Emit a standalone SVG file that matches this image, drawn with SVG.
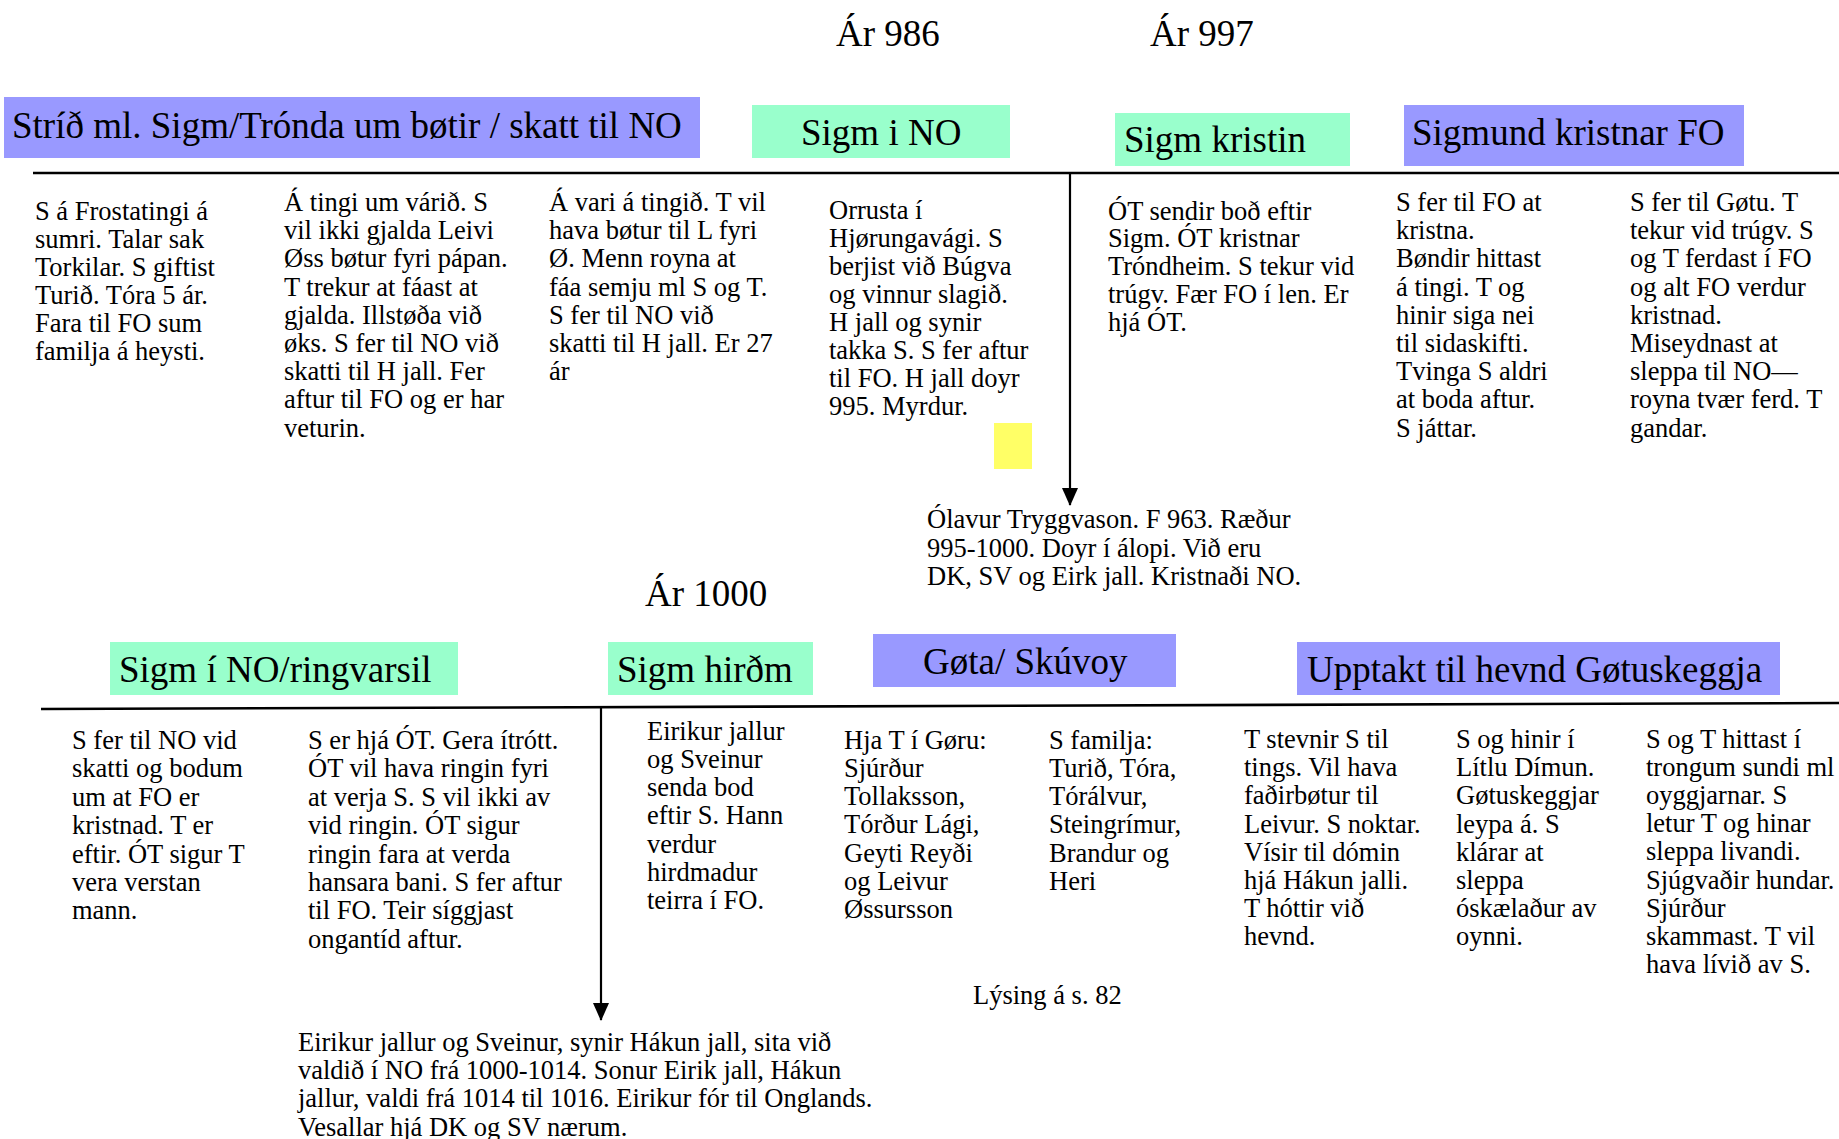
<svg xmlns="http://www.w3.org/2000/svg" width="1839" height="1139" viewBox="0 0 1839 1139">
<style>
text{font-family:"Liberation Serif","Times New Roman",serif;fill:#000}
.h{font-size:37px}
.b{font-size:26.5px}
.purple{fill:#9999FF}
.green{fill:#99FFCC}
.line{stroke:#000;stroke-width:2.6;fill:none}
.vline{stroke:#000;stroke-width:2.2;fill:none}
</style>
<defs>
<marker id="arrow" viewBox="0 0 18 16" refX="17" refY="8" markerWidth="18" markerHeight="16" markerUnits="userSpaceOnUse" orient="auto">
<path d="M0,0 L18,8 L0,16 Z" fill="#000"/>
</marker>
</defs>
<rect width="1839" height="1139" fill="#fff"/>

<g id="connectors">
<line class="line" x1="33" y1="173" x2="1839" y2="173"/>
<line class="line" x1="41" y1="709" x2="1839" y2="703"/>
<line class="vline" x1="1070" y1="173" x2="1070" y2="505" marker-end="url(#arrow)"/>
<line class="vline" x1="601" y1="708" x2="601" y2="1020" marker-end="url(#arrow)"/>
</g>

<g id="year-986"><text class="h" x="836" y="46">Ár 986</text></g>
<g id="year-997"><text class="h" x="1150" y="46">Ár 997</text></g>
<g id="year-1000"><text class="h" x="645" y="606">Ár 1000</text></g>

<g id="hdr-strid">
<rect class="purple" x="4" y="97" width="696" height="61"/>
<text class="h" x="12" y="138">Stríð ml. Sigm/Trónda um bøtir / skatt til NO</text>
</g>
<g id="hdr-sigm-no">
<rect class="green" x="752" y="105" width="258" height="53"/>
<text class="h" x="801" y="145">Sigm i NO</text>
</g>
<g id="hdr-sigm-kristin">
<rect class="green" x="1115" y="113" width="235" height="53"/>
<text class="h" x="1124" y="152">Sigm kristin</text>
</g>
<g id="hdr-sigmund-fo">
<rect class="purple" x="1404" y="105" width="340" height="61"/>
<text class="h" x="1412" y="145">Sigmund kristnar FO</text>
</g>

<g id="t1-col1">
<text class="b" x="35" y="219.5"><tspan x="35">S á Frostatingi á</tspan><tspan x="35" dy="28">sumri. Talar sak</tspan><tspan x="35" dy="28">Torkilar. S giftist</tspan><tspan x="35" dy="28">Turið. Tóra 5 ár.</tspan><tspan x="35" dy="28">Fara til FO sum</tspan><tspan x="35" dy="28">familja á heysti.</tspan></text>
</g>
<g id="t1-col2">
<text class="b" x="284" y="211"><tspan x="284">Á tingi um várið. S</tspan><tspan x="284" dy="28.2">vil ikki gjalda Leivi</tspan><tspan x="284" dy="28.2">Øss bøtur fyri pápan.</tspan><tspan x="284" dy="28.2">T trekur at fáast at</tspan><tspan x="284" dy="28.2">gjalda. Illstøða við</tspan><tspan x="284" dy="28.2">øks. S fer til NO við</tspan><tspan x="284" dy="28.2">skatti til H jall. Fer</tspan><tspan x="284" dy="28.2">aftur til FO og er har</tspan><tspan x="284" dy="28.2">veturin.</tspan></text>
</g>
<g id="t1-col3">
<text class="b" x="549" y="211"><tspan x="549">Á vari á tingið. T vil</tspan><tspan x="549" dy="28.2">hava bøtur til L fyri</tspan><tspan x="549" dy="28.2">Ø. Menn royna at</tspan><tspan x="549" dy="28.2">fáa semju ml S og T.</tspan><tspan x="549" dy="28.2">S fer til NO við</tspan><tspan x="549" dy="28.2">skatti til H jall. Er 27</tspan><tspan x="549" dy="28.2">ár</tspan></text>
</g>
<g id="t1-col4">
<text class="b" x="829" y="218.5"><tspan x="829">Orrusta í</tspan><tspan x="829" dy="28.1">Hjørungavági. S</tspan><tspan x="829" dy="28.1">berjist við Búgva</tspan><tspan x="829" dy="28.1">og vinnur slagið.</tspan><tspan x="829" dy="28.1">H jall og synir</tspan><tspan x="829" dy="28.1">takka S. S fer aftur</tspan><tspan x="829" dy="28.1">til FO. H jall doyr</tspan><tspan x="829" dy="28.1">995. Myrdur.</tspan></text>
</g>
<g id="yellow-note"><rect x="994" y="423" width="38" height="46" fill="#FFFF66"/></g>
<g id="t1-col5">
<text class="b" x="1108" y="219.5"><tspan x="1108">ÓT sendir boð eftir</tspan><tspan x="1108" dy="27.8">Sigm. ÓT kristnar</tspan><tspan x="1108" dy="27.8">Tróndheim. S tekur vid</tspan><tspan x="1108" dy="27.8">trúgv. Fær FO í len. Er</tspan><tspan x="1108" dy="27.8">hjá ÓT.</tspan></text>
</g>
<g id="t1-col6">
<text class="b" x="1396" y="211"><tspan x="1396">S fer til FO at</tspan><tspan x="1396" dy="28.2">kristna.</tspan><tspan x="1396" dy="28.2">Bøndir hittast</tspan><tspan x="1396" dy="28.2">á tingi. T og</tspan><tspan x="1396" dy="28.2">hinir siga nei</tspan><tspan x="1396" dy="28.2">til sidaskifti.</tspan><tspan x="1396" dy="28.2">Tvinga S aldri</tspan><tspan x="1396" dy="28.2">at boda aftur.</tspan><tspan x="1396" dy="28.2">S játtar.</tspan></text>
</g>
<g id="t1-col7">
<text class="b" x="1630" y="211"><tspan x="1630">S fer til Gøtu. T</tspan><tspan x="1630" dy="28.2">tekur vid trúgv. S</tspan><tspan x="1630" dy="28.2">og T ferdast í FO</tspan><tspan x="1630" dy="28.2">og alt FO verdur</tspan><tspan x="1630" dy="28.2">kristnad.</tspan><tspan x="1630" dy="28.2">Miseydnast at</tspan><tspan x="1630" dy="28.2">sleppa til NO—</tspan><tspan x="1630" dy="28.2">royna tvær ferd. T</tspan><tspan x="1630" dy="28.2">gandar.</tspan></text>
</g>
<g id="olavur">
<text class="b" x="927" y="528"><tspan x="927">Ólavur Tryggvason. F 963. Ræður</tspan><tspan x="927" dy="28.5">995-1000. Doyr í álopi. Við eru</tspan><tspan x="927" dy="28.5">DK, SV og Eirk jall. Kristnaði NO.</tspan></text>
</g>

<g id="hdr-sigm-ringvarsil">
<rect class="green" x="110" y="642" width="348" height="53"/>
<text class="h" x="119" y="682">Sigm í NO/ringvarsil</text>
</g>
<g id="hdr-sigm-hirdm">
<rect class="green" x="608" y="642" width="205" height="53"/>
<text class="h" x="617" y="682">Sigm hirðm</text>
</g>
<g id="hdr-gota">
<rect class="purple" x="873" y="634" width="303" height="53"/>
<text class="h" x="923" y="674">Gøta/ Skúvoy</text>
</g>
<g id="hdr-upptakt">
<rect class="purple" x="1297" y="642" width="483" height="53"/>
<text class="h" x="1307" y="682">Upptakt til hevnd Gøtuskeggja</text>
</g>

<g id="t2-colA">
<text class="b" x="72" y="749"><tspan x="72">S fer til NO vid</tspan><tspan x="72" dy="28.4">skatti og bodum</tspan><tspan x="72" dy="28.4">um at FO er</tspan><tspan x="72" dy="28.4">kristnad. T er</tspan><tspan x="72" dy="28.4">eftir. ÓT sigur T</tspan><tspan x="72" dy="28.4">vera verstan</tspan><tspan x="72" dy="28.4">mann.</tspan></text>
</g>
<g id="t2-colB">
<text class="b" x="308" y="749"><tspan x="308">S er hjá ÓT. Gera ítrótt.</tspan><tspan x="308" dy="28.4">ÓT vil hava ringin fyri</tspan><tspan x="308" dy="28.4">at verja S. S vil ikki av</tspan><tspan x="308" dy="28.4">vid ringin. ÓT sigur</tspan><tspan x="308" dy="28.4">ringin fara at verda</tspan><tspan x="308" dy="28.4">hansara bani. S fer aftur</tspan><tspan x="308" dy="28.4">til FO. Teir síggjast</tspan><tspan x="308" dy="28.4">ongantíd aftur.</tspan></text>
</g>
<g id="t2-colC">
<text class="b" x="647" y="739.5"><tspan x="647">Eirikur jallur</tspan><tspan x="647" dy="28.3">og Sveinur</tspan><tspan x="647" dy="28.3">senda bod</tspan><tspan x="647" dy="28.3">eftir S. Hann</tspan><tspan x="647" dy="28.3">verdur</tspan><tspan x="647" dy="28.3">hirdmadur</tspan><tspan x="647" dy="28.3">teirra í FO.</tspan></text>
</g>
<g id="t2-colD">
<text class="b" x="844" y="748.5"><tspan x="844">Hja T í Gøru:</tspan><tspan x="844" dy="28.3">Sjúrður</tspan><tspan x="844" dy="28.3">Tollaksson,</tspan><tspan x="844" dy="28.3">Tórður Lági,</tspan><tspan x="844" dy="28.3">Geyti Reyði</tspan><tspan x="844" dy="28.3">og Leivur</tspan><tspan x="844" dy="28.3">Øssursson</tspan></text>
</g>
<g id="t2-colE">
<text class="b" x="1049" y="748.5"><tspan x="1049">S familja:</tspan><tspan x="1049" dy="28.3">Turið, Tóra,</tspan><tspan x="1049" dy="28.3">Tórálvur,</tspan><tspan x="1049" dy="28.3">Steingrímur,</tspan><tspan x="1049" dy="28.3">Brandur og</tspan><tspan x="1049" dy="28.3">Heri</tspan></text>
</g>
<g id="lysing"><text class="b" x="973" y="1004">Lýsing á s. 82</text></g>
<g id="t2-colF">
<text class="b" x="1244" y="748"><tspan x="1244">T stevnir S til</tspan><tspan x="1244" dy="28.2">tings. Vil hava</tspan><tspan x="1244" dy="28.2">faðirbøtur til</tspan><tspan x="1244" dy="28.2">Leivur. S noktar.</tspan><tspan x="1244" dy="28.2">Vísir til  dómin</tspan><tspan x="1244" dy="28.2">hjá Hákun jalli.</tspan><tspan x="1244" dy="28.2">T hóttir við</tspan><tspan x="1244" dy="28.2">hevnd.</tspan></text>
</g>
<g id="t2-colG">
<text class="b" x="1456" y="748"><tspan x="1456">S og hinir í</tspan><tspan x="1456" dy="28.2">Lítlu Dímun.</tspan><tspan x="1456" dy="28.2">Gøtuskeggjar</tspan><tspan x="1456" dy="28.2">leypa á. S</tspan><tspan x="1456" dy="28.2">klárar at</tspan><tspan x="1456" dy="28.2">sleppa</tspan><tspan x="1456" dy="28.2">óskælaður av</tspan><tspan x="1456" dy="28.2">oynni.</tspan></text>
</g>
<g id="t2-colH">
<text class="b" x="1646" y="748"><tspan x="1646">S og T hittast í</tspan><tspan x="1646" dy="28.1">trongum sundi ml</tspan><tspan x="1646" dy="28.1">oyggjarnar. S</tspan><tspan x="1646" dy="28.1">letur T og hinar</tspan><tspan x="1646" dy="28.1">sleppa livandi.</tspan><tspan x="1646" dy="28.1">Sjúgvaðir hundar.</tspan><tspan x="1646" dy="28.1">Sjúrður</tspan><tspan x="1646" dy="28.1">skammast. T vil</tspan><tspan x="1646" dy="28.1">hava lívið av S.</tspan></text>
</g>
<g id="eirikur-bottom">
<text class="b" x="298" y="1051"><tspan x="298">Eirikur jallur og Sveinur, synir Hákun jall, sita við</tspan><tspan x="298" dy="28.2">valdið í NO frá 1000-1014. Sonur Eirik jall, Hákun</tspan><tspan x="298" dy="28.2">jallur, valdi frá 1014 til 1016. Eirikur fór til Onglands.</tspan><tspan x="298" dy="28.2">Vesallar hjá DK og SV nærum.</tspan></text>
</g>
</svg>
